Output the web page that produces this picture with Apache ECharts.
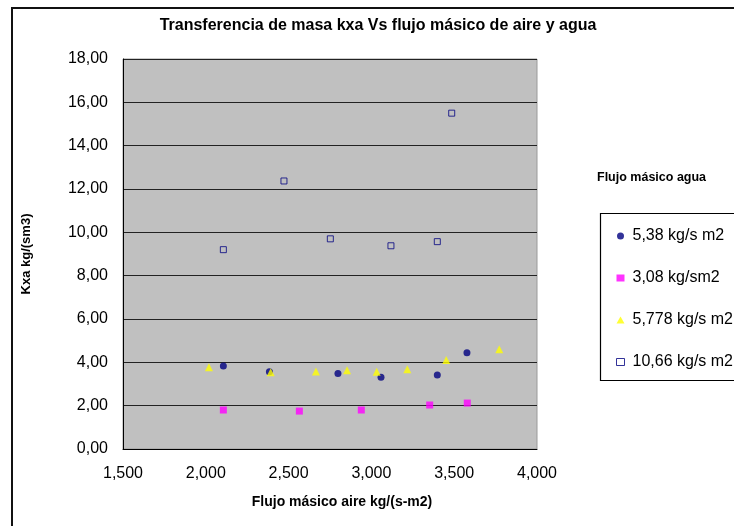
<!DOCTYPE html>
<html>
<head>
<meta charset="utf-8">
<script src="https://cdn.jsdelivr.net/npm/echarts@6/dist/echarts.min.js"></script>
<style>html,body{margin:0;padding:0;background:#fff}#c{width:734px;height:526px}</style>
</head>
<body>
<div id="c"></div>
<script>
// Series names (legend)
var seriesNames = ['5,38 kg/s m2', '3,08 kg/sm2', '5,778 kg/s m2', '10,66 kg/s m2'];
// Flujo másico agua 5,38
var air538 = [2106, 2384, 2798, 3058, 3398, 3577];
var kxa538 = [3.83, 3.57, 3.49, 3.31, 3.41, 4.44];
// Flujo másico agua 3,08
var air308 = [2106, 2565, 2939, 3352, 3579];
var kxa308 = [1.80, 1.75, 1.80, 2.03, 2.12];
// Flujo másico agua 5,778
var air5778 = [2019, 2392, 2665, 2853, 3032, 3217, 3452, 3772];
var kxa5778 = [3.77, 3.54, 3.58, 3.63, 3.57, 3.68, 4.11, 4.60];
// Flujo másico agua 10,66
var air1066 = [2106, 2472, 2752, 3118, 3398, 3485];
var kxa1066 = [9.20, 12.37, 9.70, 9.38, 9.57, 15.50];

function pairs(xs, ys) { return xs.map(function (x, i) { return [x, ys[i]]; }); }

var FONT = 'Liberation Sans, Arial, sans-serif';
var chart = echarts.init(document.getElementById('c'), null, { renderer: 'canvas' });
chart.setOption({
  animation: false,
  backgroundColor: '#fff',
  title: {
    text: 'Transferencia de masa kxa Vs flujo másico de aire y agua',
    left: 378, top: 18, textAlign: 'center', padding: 0,
    textStyle: { fontFamily: FONT, fontSize: 16, fontWeight: 'bold', color: '#000' }
  },
  grid: {
    left: 123, top: 59, width: 414, height: 390,
    show: true, backgroundColor: '#C0C0C0', borderColor: '#9a9a9a', borderWidth: 1,
    containLabel: false
  },
  xAxis: {
    type: 'value', min: 1500, max: 4000, interval: 500,
    name: 'Flujo másico aire kg/(s-m2)', nameLocation: 'middle', nameGap: 46,
    nameTextStyle: { fontFamily: FONT, fontSize: 14, fontWeight: 'bold', color: '#000', padding: [0, 0, 0, 24] },
    axisLine: { show: true, lineStyle: { color: '#000', width: 1 } },
    axisTick: { show: false },
    splitLine: { show: false },
    axisLabel: {
      fontFamily: FONT, fontSize: 16, color: '#000', margin: 17,
      formatter: function (v) { return v.toLocaleString('en-US'); }
    }
  },
  yAxis: {
    type: 'value', min: 0, max: 18, interval: 2,
    name: 'Kxa kg/(sm3)', nameLocation: 'middle', nameGap: 90, nameRotate: 90,
    nameTextStyle: { fontFamily: FONT, fontSize: 13, fontWeight: 'bold', color: '#000' },
    axisLine: { show: true, lineStyle: { color: '#000', width: 1 } },
    axisTick: { show: false },
    splitLine: { show: true, lineStyle: { color: '#222', width: 1 } },
    axisLabel: {
      fontFamily: FONT, fontSize: 16, color: '#000', margin: 15,
      formatter: function (v) { return v.toFixed(2).replace('.', ','); }
    }
  },
  legend: {
    orient: 'vertical', left: 616, top: 226, padding: 0,
    itemWidth: 8, itemHeight: 7, itemGap: 22,
    textStyle: { fontFamily: FONT, fontSize: 16, color: '#000', lineHeight: 20, padding: [0, 0, 0, 3] },
    data: [
      { name: seriesNames[0], icon: 'circle' },
      { name: seriesNames[1], icon: 'rect' },
      { name: seriesNames[2], icon: 'triangle' },
      { name: seriesNames[3], icon: 'rect', itemStyle: { color: '#fff', borderColor: '#000080', borderWidth: 1 } }
    ]
  },
  graphic: [
    { type: 'rect', shape: { x: 12, y: 8, width: 800, height: 600 }, style: { fill: 'none', stroke: '#111', lineWidth: 2 }, silent: true, z: 100 },
    { type: 'rect', shape: { x: 600.5, y: 213.5, width: 300, height: 167 }, style: { fill: 'none', stroke: '#000', lineWidth: 1.2 }, silent: true, z: 100 },
    { type: 'text', left: 597, top: 171, style: { text: 'Flujo másico agua', font: 'bold 12.5px ' + FONT, fill: '#000' }, silent: true }
  ],
  series: [
    { name: seriesNames[0], type: 'scatter', symbol: 'circle', symbolSize: 7,
      itemStyle: { color: '#000080' }, data: pairs(air538, kxa538) },
    { name: seriesNames[1], type: 'scatter', symbol: 'rect', symbolSize: 7,
      itemStyle: { color: '#FF00FF' }, data: pairs(air308, kxa308) },
    { name: seriesNames[2], type: 'scatter', symbol: 'triangle', symbolSize: 8,
      itemStyle: { color: '#FFFF00' }, data: pairs(air5778, kxa5778) },
    { name: seriesNames[3], type: 'scatter', symbol: 'rect', symbolSize: 6,
      itemStyle: { color: 'rgba(0,0,0,0)', borderColor: '#000080', borderWidth: 1 }, data: pairs(air1066, kxa1066) }
  ]
});
</script>
</body>
</html>
